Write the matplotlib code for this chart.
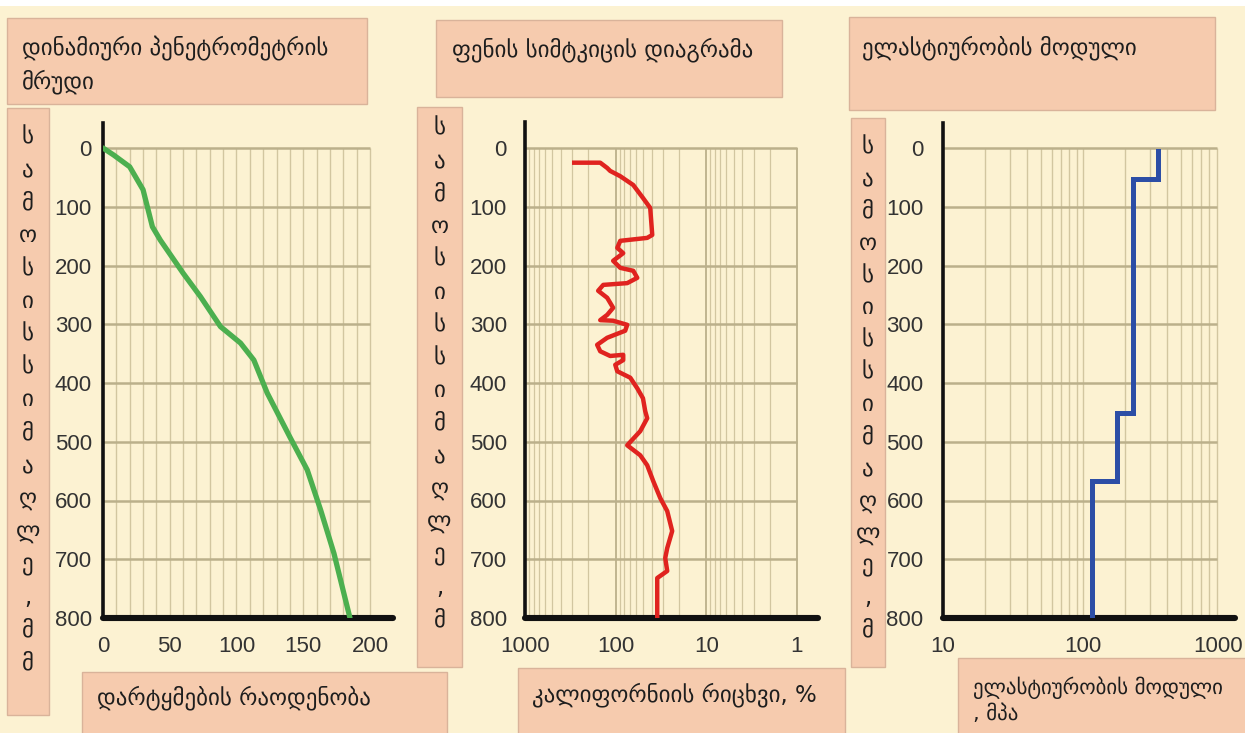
import matplotlib
matplotlib.use("Agg")
import matplotlib.pyplot as plt
from matplotlib.patches import Rectangle
from matplotlib import font_manager
import matplotlib.transforms as mtransforms
import numpy as np

# ---------------- data ----------------
titles = ["დინამიური პენეტრომეტრის\nმრუდი", "ფენის სიმტკიცის დიაგრამა", "ელასტიურობის მოდული"]
xlabels = ["დარტყმების რაოდენობა", "კალიფორნიის რიცხვი, %", "ელასტიურობის მოდული\n, მპა"]
ylabel_chars_1 = list("სამოსისსიმაღლე,მმ")
ylabel_chars_2 = list("სამოსისსიმაღლე,მ")
ylabel_chars_3 = list("სამოსისსიმაღლე,მ")

depth_ticks = [0, 100, 200, 300, 400, 500, 600, 700, 800]

# panel 1: dynamic penetrometer
blows = [0, 8, 20, 30, 37, 43, 60, 73, 88, 103, 113, 123, 140, 153, 163, 173, 185]
blows_depth = [0, 12, 32, 71, 134, 157, 213, 253, 304, 332, 361, 417, 492, 548, 616, 690, 800]
blows_ticks = [0, 50, 100, 150, 200]

# panel 2: CBR
cbr = [303, 148, 124, 115, 89, 64, 50, 41.6, 39.5, 44.9, 89, 96, 82.6, 106.6, 89, 64, 57.8,
       74.6, 137, 156, 124, 106.6, 124, 148, 106.6, 74.6, 78.5, 124, 160, 148, 115, 82.6,
       82.6, 101, 96, 69, 57.8, 50, 47.2, 44.9, 53.6, 74.6, 53.6, 44.9, 38.5, 32.2, 27,
       23.8, 27, 28.4, 27, 34.8, 34.8]
cbr_depth = [25, 25, 34, 39, 48, 63, 85, 102, 148, 153, 158, 170, 179, 192, 204, 209, 221,
             230, 233, 243, 255, 272, 284, 293, 294, 301, 311, 323, 335, 346, 354, 352,
             361, 369, 380, 391, 409, 426, 448, 460, 482, 506, 523, 540, 567, 596, 618,
             652, 681, 698, 720, 732, 800]
cbr_ticks = [1000, 100, 10, 1]

# panel 3: elastic modulus layers
layer_top = [5, 53, 451, 567]
layer_modulus = [343, 227, 175, 116]
layer_bottom_end = 800
mod_ticks = [10, 100, 1000]

# ---------------- style ----------------
W, H = 1245, 733
BG = "#fcf2d2"
BOX = "#f6cbae"
BOX_EDGE = "#d9b39a"
GRID_H = "#bbb08b"
GRID_V = "#d2c6a0"
TXT = "#1e1e1e"
TICK = "#333333"
GEO_SIZE = 16.5

names = {f.name for f in font_manager.fontManager.ttflist}
tick_family = "Liberation Sans Narrow" if "Liberation Sans Narrow" in names else "Liberation Sans"
tick_size = 17.5 if tick_family == "Liberation Sans Narrow" else 16
geo_family = ["DejaVu Sans"]

fig = plt.figure(figsize=(W / 100, H / 100), dpi=100, facecolor=BG)


def fx(x):
    return x / W


def fy(y):
    return 1 - y / H


def box(x0, y0, x1, y1):
    r = Rectangle((fx(x0), fy(y1)), fx(x1) - fx(x0), fy(y0) - fy(y1),
                  transform=fig.transFigure, facecolor=BOX, edgecolor=BOX_EDGE,
                  linewidth=1.0, zorder=5)
    fig.add_artist(r)


def ftext(x, y, s, size=GEO_SIZE, ha="left", va="center", ls=1.3):
    fig.text(fx(x), fy(y), s, fontsize=size, color=TXT, ha=ha, va=va,
             family=geo_family, zorder=6, linespacing=ls)


# top white band
fig.add_artist(Rectangle((0, fy(6)), 1, 6 / H, transform=fig.transFigure,
                         facecolor="white", edgecolor="none", zorder=1))


def make_axes(left_px, right_px, top_px, bottom_px):
    ax = fig.add_axes([fx(left_px), fy(bottom_px), fx(right_px) - fx(left_px),
                       fy(top_px) - fy(bottom_px)])
    ax.set_facecolor("none")
    for s in ("top", "right"):
        ax.spines[s].set_visible(False)
    ax.spines["left"].set_linewidth(2.6)
    ax.spines["left"].set_color("#111111")
    ax.spines["bottom"].set_linewidth(4.4)
    ax.spines["bottom"].set_color("#111111")
    ax.spines["bottom"].set_capstyle("round")
    ax.tick_params(length=0)
    return ax


def style_ticks(ax, xpad, ypad):
    ax.tick_params(axis="x", pad=xpad)
    ax.tick_params(axis="y", pad=ypad)
    for lab in ax.get_xticklabels() + ax.get_yticklabels():
        lab.set_family(tick_family)
        lab.set_fontsize(tick_size)
        lab.set_color(TICK)


ZERO_PX, END_PX = 148, 618
px_per_unit = (END_PX - ZERO_PX) / 800.0


def top_limit(top_px):
    return -(ZERO_PX - top_px) / px_per_unit


# ---------------- panel 1 ----------------
x0, x200 = 103, 370
ppu = (x200 - x0) / 200.0
right1 = 393
ax1 = make_axes(x0, right1, 123, END_PX)
ax1.set_xlim(0, (right1 - x0) / ppu)
ax1.set_ylim(800, top_limit(123))
vx = np.arange(10, 201, 10)
ax1.vlines(vx, 0, 800, color=GRID_V, lw=1.0, zorder=1)
ax1.hlines(depth_ticks, 0, 200, color=GRID_H, lw=1.8, zorder=1)
ax1.plot(blows, blows_depth, color="#4caf4f", lw=3.8, solid_capstyle="round",
         solid_joinstyle="round", zorder=3)
ax1.set_xticks(blows_ticks)
ax1.set_yticks(depth_ticks)
style_ticks(ax1, 13, 8)

# ---------------- panel 2 ----------------
x1000, x1 = 525, 797
dec2 = (x1 - x1000) / 3.0
right2 = 818
ax2 = make_axes(x1000, right2, 122, END_PX)
ax2.set_xscale("log")
ax2.set_xlim(1000, 10 ** (3 - (right2 - x1000) / dec2))
ax2.set_ylim(800, top_limit(122))
minor2 = [m * 10 ** e for e in range(0, 3) for m in range(1, 10)] + [1000]
major2 = [1, 10, 100, 1000]
ax2.vlines([v for v in minor2 if v not in major2], 0, 800, color=GRID_V, lw=0.9, zorder=1)
ax2.vlines(major2, 0, 800, color=GRID_H, lw=1.3, zorder=1)
ax2.hlines(depth_ticks, 1000, 1, color=GRID_H, lw=1.8, zorder=1)
ax2.plot(cbr, cbr_depth, color="#e0231f", lw=3.2, solid_joinstyle="round",
         solid_capstyle="butt", zorder=3)
ax2.set_xticks(cbr_ticks)
ax2.set_xticklabels([str(t) for t in cbr_ticks])
ax2.xaxis.set_minor_locator(matplotlib.ticker.NullLocator())
ax2.set_yticks(depth_ticks)
style_ticks(ax2, 13, 13)

# ---------------- panel 3 ----------------
x10 = 943
dec3 = 140.0
right3 = 1235
ax3 = make_axes(x10, right3, 123, END_PX)
ax3.set_xscale("log")
ax3.set_xlim(10, 10 ** (1 + (right3 - x10) / dec3))
ax3.set_ylim(800, top_limit(123))
minor3 = [m * 10 ** e for e in range(1, 3) for m in range(1, 10)]
ax3.vlines(minor3[1:], 0, 800, color=GRID_V, lw=1.0, zorder=1)
ax3.hlines(depth_ticks, 10, 900, color=GRID_H, lw=1.8, zorder=1)
px, py = [], []
for i, (t, e) in enumerate(zip(layer_top, layer_modulus)):
    b = layer_top[i + 1] if i + 1 < len(layer_top) else layer_bottom_end
    px += [e, e]
    py += [t, b]
ax3.plot(px, py, color="#2c4ea6", lw=3.6, solid_joinstyle="miter", zorder=3)
ax3.set_xticks(mod_ticks)
ax3.set_xticklabels([str(t) for t in mod_ticks])
ax3.xaxis.set_minor_locator(matplotlib.ticker.NullLocator())
ax3.set_yticks(depth_ticks)
style_ticks(ax3, 13, 14)
# nudge the last label so it stays inside the canvas
last = ax3.get_xticklabels()[-1]
last.set_horizontalalignment("right")
last.set_transform(last.get_transform() + mtransforms.ScaledTranslation(20 / 100, 0, fig.dpi_scale_trans))

# ---------------- boxes & texts ----------------
# titles
box(7, 18, 367, 104)
ftext(22, 65, titles[0], ls=1.45)
box(436, 20, 782, 97)
ftext(452, 50, titles[1])
box(849, 17, 1215, 110)
ftext(862, 48, titles[2])

# x labels
box(82, 672, 447, 740)
ftext(97, 698, xlabels[0])
box(518, 668, 845, 740)
ftext(532, 695, xlabels[1])
box(958, 658, 1250, 740)
ftext(973, 700, xlabels[2], size=15, ls=1.3)


# vertical y labels
def vlabel(x0b, x1b, y0b, y1b, chars, c_top, c_bot):
    box(x0b, y0b, x1b, y1b)
    ys = np.linspace(c_top, c_bot, len(chars))
    for ch, yy in zip(chars, ys):
        ftext((x0b + x1b) / 2, yy, ch, ha="center")


vlabel(7, 49, 108, 715, ylabel_chars_1, 137, 663)
vlabel(417, 462, 107, 667, ylabel_chars_2, 128, 620)
vlabel(851, 885, 118, 667, ylabel_chars_3, 147, 630)

fig.savefig("out.png", dpi=100, facecolor=BG)
